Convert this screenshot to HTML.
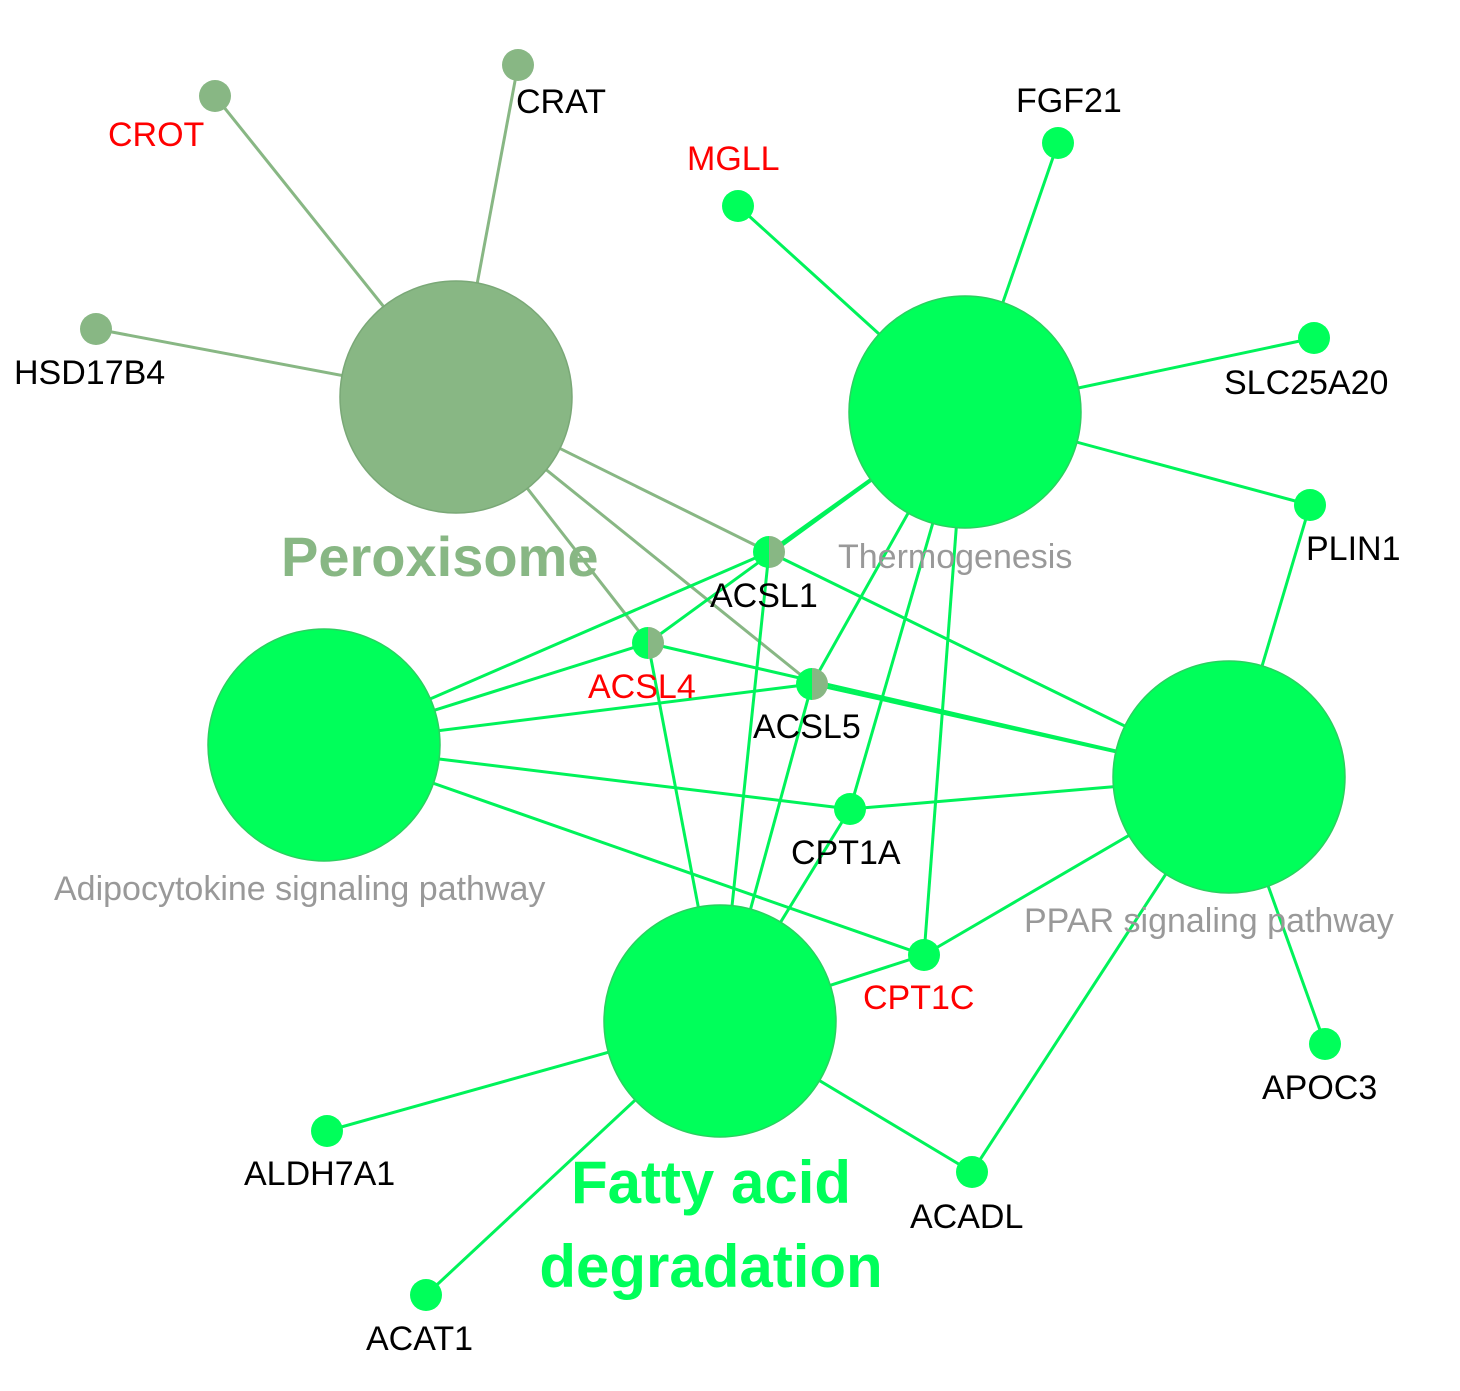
<!DOCTYPE html>
<html><head><meta charset="utf-8"><style>
html,body{margin:0;padding:0;background:#fff;}
svg text{font-family:"Liberation Sans",Arial,sans-serif;}
</style></head><body>
<svg width="1460" height="1386" viewBox="0 0 1460 1386" xmlns="http://www.w3.org/2000/svg">
<g stroke="#88b784" stroke-width="3">
<line x1="456" y1="397" x2="215" y2="96"/>
<line x1="456" y1="397" x2="518" y2="65"/>
<line x1="456" y1="397" x2="96" y2="329"/>
<line x1="456" y1="397" x2="769" y2="552"/>
<line x1="456" y1="397" x2="648" y2="643"/>
<line x1="456" y1="397" x2="812" y2="684"/>
</g>
<g stroke="#00f35a" stroke-width="3">
<line x1="965" y1="412" x2="738" y2="206"/>
<line x1="965" y1="412" x2="1058" y2="143"/>
<line x1="965" y1="412" x2="1314" y2="338"/>
<line x1="965" y1="412" x2="1310" y2="505"/>
<line x1="965" y1="412" x2="769" y2="552"/>
<line x1="965" y1="412" x2="648" y2="643"/>
<line x1="965" y1="412" x2="812" y2="684"/>
<line x1="965" y1="412" x2="850" y2="809"/>
<line x1="965" y1="412" x2="924" y2="955"/>
<line x1="324" y1="745" x2="769" y2="552"/>
<line x1="324" y1="745" x2="648" y2="643"/>
<line x1="324" y1="745" x2="812" y2="684"/>
<line x1="324" y1="745" x2="850" y2="809"/>
<line x1="324" y1="745" x2="924" y2="955"/>
<line x1="1229" y1="777" x2="769" y2="552"/>
<line x1="1229" y1="777" x2="648" y2="643"/>
<line x1="1229" y1="777" x2="812" y2="684"/>
<line x1="1229" y1="777" x2="850" y2="809"/>
<line x1="1229" y1="777" x2="924" y2="955"/>
<line x1="1229" y1="777" x2="1310" y2="505"/>
<line x1="1229" y1="777" x2="1325" y2="1044"/>
<line x1="1229" y1="777" x2="972" y2="1172"/>
<line x1="720" y1="1021" x2="769" y2="552"/>
<line x1="720" y1="1021" x2="648" y2="643"/>
<line x1="720" y1="1021" x2="812" y2="684"/>
<line x1="720" y1="1021" x2="850" y2="809"/>
<line x1="720" y1="1021" x2="924" y2="955"/>
<line x1="720" y1="1021" x2="327" y2="1131"/>
<line x1="720" y1="1021" x2="426" y2="1295"/>
<line x1="720" y1="1021" x2="972" y2="1172"/>
</g>
<circle cx="456" cy="397" r="116" fill="#88b784" stroke="#7aa877" stroke-width="1.5"/>
<g fill="#00ff5a" stroke="#2bd060" stroke-width="1.5">
<circle cx="965" cy="412" r="116"/>
<circle cx="324" cy="745" r="116"/>
<circle cx="1229" cy="777" r="116"/>
<circle cx="720" cy="1021" r="116"/>
</g>
<g fill="#88b784">
<circle cx="215" cy="96" r="16"/><circle cx="518" cy="65" r="16"/><circle cx="96" cy="329" r="16"/>
</g>
<g fill="#00ff5a">
<circle cx="738" cy="206" r="16"/><circle cx="1058" cy="143" r="16"/><circle cx="1314" cy="338" r="16"/>
<circle cx="1310" cy="505" r="16"/><circle cx="850" cy="809" r="16"/><circle cx="924" cy="955" r="16"/>
<circle cx="1325" cy="1044" r="16"/><circle cx="972" cy="1172" r="16"/><circle cx="327" cy="1131" r="16"/><circle cx="426" cy="1295" r="16"/>
</g>
<g>
<path d="M769 536 A16 16 0 0 0 769 568 Z" fill="#00ff5a"/><path d="M769 536 A16 16 0 0 1 769 568 Z" fill="#88b784"/>
<path d="M648 627 A16 16 0 0 0 648 659 Z" fill="#00ff5a"/><path d="M648 627 A16 16 0 0 1 648 659 Z" fill="#88b784"/>
<path d="M812 668 A16 16 0 0 0 812 700 Z" fill="#00ff5a"/><path d="M812 668 A16 16 0 0 1 812 700 Z" fill="#88b784"/>
</g>
<g font-size="34" fill="#000">
<text x="108" y="146" fill="#ff0000">CROT</text>
<text x="516" y="113">CRAT</text>
<text x="14" y="384">HSD17B4</text>
<text x="687" y="170" fill="#ff0000">MGLL</text>
<text x="1016" y="112">FGF21</text>
<text x="1224" y="394">SLC25A20</text>
<text x="1306" y="560">PLIN1</text>
<text x="710" y="607">ACSL1</text>
<text x="588" y="698" fill="#ff0000">ACSL4</text>
<text x="753" y="738">ACSL5</text>
<text x="791" y="864">CPT1A</text>
<text x="863" y="1009" fill="#ff0000">CPT1C</text>
<text x="1262" y="1099">APOC3</text>
<text x="910" y="1228">ACADL</text>
<text x="244" y="1185">ALDH7A1</text>
<text x="366" y="1350">ACAT1</text>
</g>
<text x="281" y="576" font-size="56" font-weight="bold" fill="#88b784">Peroxisome</text>
<text x="838" y="568" font-size="34" fill="#999">Thermogenesis</text>
<text x="54" y="900" font-size="34" fill="#999">Adipocytokine signaling pathway</text>
<text x="1024" y="932" font-size="34" fill="#999">PPAR signaling pathway</text>
<text x="711" y="1203" font-size="60" font-weight="bold" fill="#00ff5a" text-anchor="middle">Fatty acid</text>
<text x="711" y="1287" font-size="60" font-weight="bold" fill="#00ff5a" text-anchor="middle">degradation</text>
</svg>
</body></html>
